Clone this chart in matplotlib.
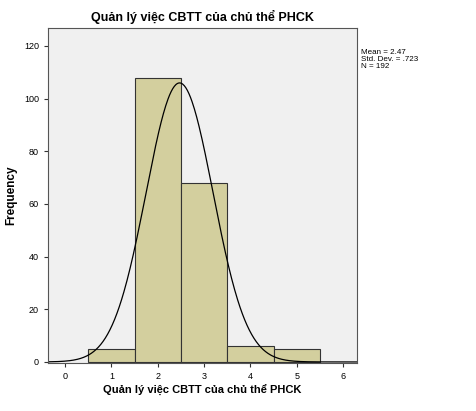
import numpy as np
import matplotlib
matplotlib.use("Agg")
import matplotlib.pyplot as plt
plt.rcParams['font.family'] = ['Liberation Sans', 'DejaVu Sans']

bin_centers = [1, 2, 3, 4, 5]
counts = [5, 108, 68, 6, 5]
mean, sd, n = 2.47, 0.723, 192
x_ticks = [0, 1, 2, 3, 4, 5, 6]
y_ticks = [0, 20, 40, 60, 80, 100, 120]

fig = plt.figure(figsize=(4.77, 4.11), dpi=100)
ax = fig.add_axes([48/477, 1-363/411, 309/477, 335/411])
ax.set_facecolor('#f0f0f0')
ax.bar(bin_centers, counts, width=1.0, color='#d3cf9e', edgecolor='#333333', linewidth=0.8)
xs = np.linspace(-0.37, 6.3, 400)
ys = n * 1.0 / (sd*np.sqrt(2*np.pi)) * np.exp(-0.5*((xs-mean)/sd)**2)
ax.plot(xs, ys, color='black', linewidth=0.9)
ax.set_xlim(-0.37, 6.3)
ax.set_ylim(-0.4, 126.8)
ax.set_xticks(x_ticks)
ax.set_yticks(y_ticks)
ax.tick_params(labelsize=6.5, length=3, color='#333333')
for s in ax.spines.values():
    s.set_color('#555555'); s.set_linewidth(0.8)
ax.set_title('Quản lý việc CBTT của chủ thể PHCK', fontsize=9, fontweight='bold', pad=5)
ax.set_xlabel('Quản lý việc CBTT của chủ thể PHCK', fontsize=8, fontweight='bold', labelpad=3)
ax.set_ylabel('Frequency', fontsize=8.5, fontweight='bold')
ax.yaxis.set_label_coords(-31/309, 0.5)
fig.text(361/477, 1-49/411, 'Mean = 2.47\nStd. Dev. = .723\nN = 192', fontsize=5.8, va='top', linespacing=1.0)
fig.savefig('out.png', dpi=100)
